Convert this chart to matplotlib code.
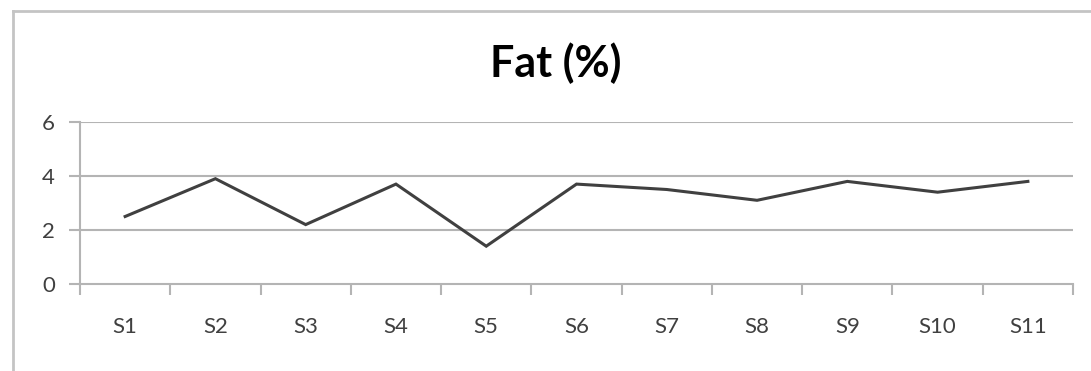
import matplotlib
matplotlib.use("Agg")
import matplotlib.pyplot as plt
from matplotlib.lines import Line2D
import numpy as np

categories = ["S1", "S2", "S3", "S4", "S5", "S6", "S7", "S8", "S9", "S10", "S11"]
fat = [2.5, 3.9, 2.2, 3.7, 1.4, 3.7, 3.5, 3.1, 3.8, 3.4, 3.8]
yticks = [0, 2, 4, 6]
title = "Fat (%)"

plt.rcParams['font.family'] = ['Lato', 'DejaVu Sans']

W, H = 1091, 371
fig = plt.figure(figsize=(W / 100, H / 100), dpi=100)
fig.patch.set_facecolor("white")

# chart border (top and left visible)
bc = "#c4c4c4"
fig.add_artist(Line2D([13 / W, 13 / W], [0, 1 - 11 / H], transform=fig.transFigure, color=bc, lw=2))
fig.add_artist(Line2D([13 / W, 1], [1 - 11 / H, 1 - 11 / H], transform=fig.transFigure, color=bc, lw=2))

ax = fig.add_axes([80 / W, 1 - 284 / H, (1073 - 80) / W, (284 - 122) / H])
x = np.arange(len(categories))
ax.plot(x, fat, color="#404040", lw=2.2, solid_joinstyle="miter")

ax.set_xlim(-0.5, len(categories) - 0.5)
ax.set_ylim(0, 6)
ax.set_yticks(yticks)
ax.set_yticklabels([str(v) for v in yticks])
ax.set_xticks(x)
ax.set_xticklabels(categories)
ax.set_xticks(np.arange(-0.5, len(categories), 1.0), minor=True)

gc = "#b4b4b4"
for v in yticks[1:]:
    ax.axhline(v, color=gc, lw=1.5, zorder=0)

for s in ["top", "right"]:
    ax.spines[s].set_visible(False)
ax.spines["left"].set_color(gc)
ax.spines["bottom"].set_color(gc)
ax.spines["left"].set_linewidth(1.5)
ax.spines["bottom"].set_linewidth(1.5)

ax.tick_params(axis="x", which="major", length=0, pad=24, labelsize=16, labelcolor="#404040")
ax.tick_params(axis="x", which="minor", length=8, width=1.5, color=gc, direction="out")
ax.tick_params(axis="y", which="major", length=8, width=1.5, color=gc, pad=10, labelsize=16, labelcolor="#404040")

fig.text(556 / W, 1 - 63 / H, title, ha="center", va="center", fontsize=31, fontweight="bold", color="black")

fig.savefig("out.png", dpi=100, facecolor="white")
